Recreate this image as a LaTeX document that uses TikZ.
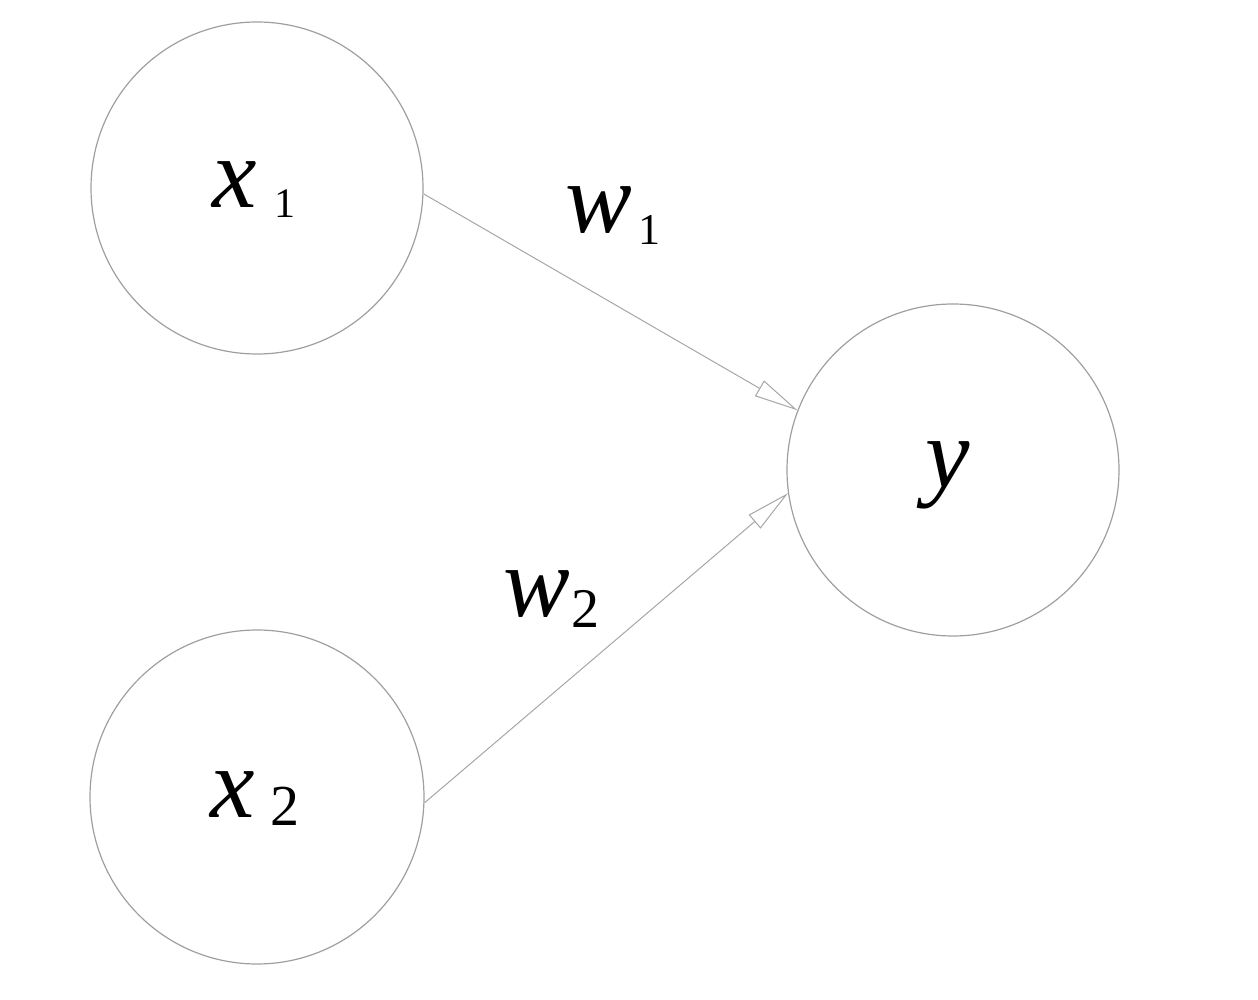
\documentclass[tikz,border=0pt]{standalone}
\usepackage{fontspec}
\setmainfont{Liberation Serif}
\usetikzlibrary{arrows.meta}
\tikzset{
  neuron/.style={circle, draw=gray!75, line width=1.2pt, inner sep=0pt},
  link/.style={draw=gray!70, line width=1pt, -{Triangle[open, length=44pt, width=18pt, line width=1pt]}},
  lbl/.style={anchor=base west, inner sep=0pt, font=\fontsize{100}{100}\selectfont},
}
\newcommand{\subA}[3]{\hspace{#1pt}\raisebox{-#2pt}{\upshape\fontsize{#3}{#3}\selectfont}}
\begin{document}
\begin{tikzpicture}[x=1pt,y=1pt]
\useasboundingbox (0,0) rectangle (1258,999);
\node[neuron, minimum size=332pt] (x1) at (257,811) {};
\node[neuron, minimum size=334pt] (x2) at (257,202) {};
\node[neuron, minimum size=332pt] (y) at (953,529) {};
\node[lbl] (tx1) at (212,791) {\textit{x}\hspace{18pt}\raisebox{-10pt}{\fontsize{42}{42}\selectfont 1}};
\node[lbl] (tx2) at (210,182) {\textit{x}\hspace{16pt}\raisebox{-8pt}{\fontsize{58}{58}\selectfont 2}};
\node[lbl] (ty) at (925,511) {\textit{y}};
\node[lbl] (tw1) at (565,766) {\textit{w}\hspace{7pt}\raisebox{-12pt}{\fontsize{44}{44}\selectfont 1}};
\node[lbl] (tw2) at (503,382) {\textit{w}\hspace{2pt}\raisebox{-11pt}{\fontsize{56}{56}\selectfont 2}};
\draw[link] (x1.-2.4) -- (y.159);
\draw[link] (x2.-2) -- (y.-172.5);
\end{tikzpicture}
\end{document}
